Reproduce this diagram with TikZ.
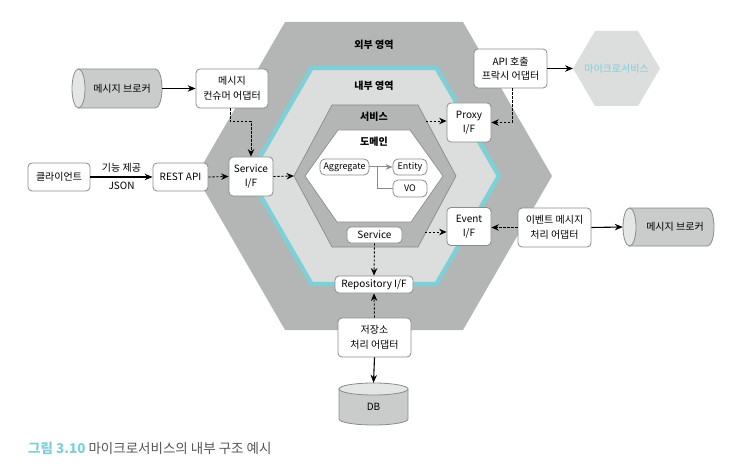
\documentclass[tikz,border=0pt]{standalone}
\usepackage{fontspec}
\setmainfont{Noto Sans CJK KR}
\usetikzlibrary{arrows.meta}
\definecolor{hexdark}{HTML}{B4B5B5}
\definecolor{hexlight}{HTML}{DCDDDD}
\definecolor{tealc}{HTML}{7ECFD6}
\definecolor{edgec}{HTML}{8A8B8B}
\definecolor{cylbody}{HTML}{CACBCB}
\definecolor{cylend}{HTML}{E4E5E5}
\definecolor{capgray}{HTML}{555555}
\tikzset{
  box/.style={draw=edgec, line width=0.8pt, fill=white, rounded corners=4pt, align=center,
    inner sep=0pt, font=\fontsize{10}{14.5}\selectfont},
  smallbox/.style={box, rounded corners=5pt, font=\fontsize{9}{10}\selectfont},
  region/.style={font=\bfseries\fontsize{10}{11}\selectfont},
  solidarrow/.style={line width=1.1pt, -{Stealth[length=8pt,width=6.5pt]}},
  dasharrow/.style={line width=0.9pt, dash pattern=on 2.2pt off 1.8pt, -{Stealth[length=7.5pt,width=6.5pt]}},
  grayarrow/.style={draw=edgec, line width=1pt, -{Stealth[length=7pt,width=5.5pt]}},
  cyl/.style={draw=edgec, line width=0.8pt, fill=cylbody},
  cylcap/.style={draw=edgec, line width=0.8pt, fill=cylend},
  lbl/.style={font=\fontsize{10}{12}\selectfont},
}
\begin{document}
\begin{tikzpicture}[x=1pt,y=-1pt]
\useasboundingbox (0,0) rectangle (734,468);

% outer region
\fill[hexdark] (285,22) -- (463,22) -- (552,176) -- (463,330) -- (285,330) -- (196,176) -- cycle;
% inner region
\draw[tealc, line width=4.5pt, fill=hexlight, line join=miter]
  (311.5,68) -- (436.5,68) -- (499,176) -- (436.5,284) -- (311.5,284) -- (249,176) -- cycle;
% service hexagon
\draw[edgec, line width=0.7pt, fill=hexdark]
  (332,105) -- (418,105) -- (456,176) -- (418,247) -- (332,247) -- (294,176) -- cycle;
% domain hexagon
\draw[edgec, line width=0.7pt, fill=white]
  (338,130) -- (410,130) -- (443,176) -- (411,222) -- (337,222) -- (305,176) -- cycle;

\coordinate (svcL) at (294,176);
\coordinate (svcUR) at (426,121);
\coordinate (svcLR) at (425,232);

\node[region] (outerlbl) at (374,45) {외부 영역};
\node[region] (innerlbl) at (374,86) {내부 영역};
\node[region] (svclbl) at (374,117) {서비스};
\node[region] (domlbl) at (374,142) {도메인};

% domain items
\node[smallbox, minimum width=49pt, minimum height=16pt] (agg) at (344.5,167) {Aggregate};
\node[smallbox, minimum width=34pt, minimum height=16pt] (ent) at (410,167) {Entity};
\node[smallbox, minimum width=34pt, minimum height=17pt] (vo) at (410,188.5) {VO};
\draw[grayarrow] (agg.east) -- (ent.west);
\coordinate (branch) at (377,167);
\draw[draw=edgec, line width=1pt] (branch) |- (vo.west);

\node[box, minimum width=55pt, minimum height=16pt] (svc) at (374.5,235) {Service};
\node[box, minimum width=78pt, minimum height=17pt] (repo) at (374,284.5) {Repository I/F};
\node[box, minimum width=73pt, minimum height=39pt] (stor) at (374.5,337.5) {저장소\\처리 어댑터};

% DB cylinder
\draw[cyl] (339,389) -- (339,419) arc[start angle=180, end angle=360, x radius=34.5pt, y radius=6pt] -- (408,389) -- cycle;
\draw[cylcap] (373.5,389) ellipse[x radius=34.5pt, y radius=6pt];
\node[minimum width=69pt, minimum height=42pt, inner sep=0pt] (db) at (373.5,404) {};
\node[lbl] (dblbl) at (373.5,407) {DB};

% left side
\draw[cyl] (78.5,69) -- (155.5,69) arc[start angle=90, end angle=-90, x radius=6.5pt, y radius=19.5pt] -- (78.5,108) -- cycle;
\draw[cylcap] (78.5,88.5) ellipse[x radius=6.5pt, y radius=19.5pt];
\node[minimum width=90pt, minimum height=39pt, inner sep=0pt] (broker1) at (117,88.5) {};
\node[lbl] (broker1lbl) at (122,88.5) {메시지 브로커};

\node[box, minimum width=72pt, minimum height=39pt] (cons) at (232,88.5) {메시지\\컨슈머 어댑터};
\node[box, minimum width=62pt, minimum height=28pt] (client) at (59,177) {클라이언트};
\node[box, minimum width=55pt, minimum height=28pt] (rest) at (180.5,177) {REST API};
\node[box, minimum width=44pt, minimum height=39pt] (svcif) at (251,176.5) {Service\\I/F};

% right side
\node[box, minimum width=73pt, minimum height=39pt] (apx) at (510.5,68.5) {API 호출\\프락시 어댑터};
\fill[hexlight] (573,68.5) -- (595,31) -- (638,31) -- (660,68.5) -- (638,106) -- (595,106) -- cycle;
\coordinate (msL) at (573,68.5);
\node[font=\fontsize{10}{12}\selectfont, text=tealc] (ms) at (616.5,68.5) {마이크로서비스};
\node[box, minimum width=44pt, minimum height=39pt] (pxif) at (469,122.5) {Proxy\\I/F};
\node[box, minimum width=44pt, minimum height=38pt] (evif) at (469,226.5) {Event\\I/F};
\node[box, minimum width=73pt, minimum height=39pt] (evad) at (554.5,227.5) {이벤트 메시지\\처리 어댑터};

\draw[cyl] (629.5,208) -- (707.5,208) arc[start angle=90, end angle=-90, x radius=6.5pt, y radius=19pt] -- (629.5,246) -- cycle;
\draw[cylcap] (629.5,227) ellipse[x radius=6.5pt, y radius=19pt];
\node[minimum width=91pt, minimum height=38pt, inner sep=0pt] (broker2) at (668.5,227) {};
\node[lbl] (broker2lbl) at (675,227) {메시지 브로커};

% connectors
\draw[solidarrow] (broker1.east) -- (cons.west);
\draw[solidarrow] (client.east) -- (rest.west)
  node[midway, above=1pt, lbl] {기능 제공}
  node[midway, below=1pt, lbl] {JSON};
\draw[dasharrow] (rest.east) -- (svcif.west);
\draw[dasharrow] ([xshift=-2pt]cons.south) -- ++(0,13) -| (svcif.north);
\draw[dasharrow] (svcif.east) -- (svcL);
\draw[dasharrow] (svc.south) -- (repo.north);
\draw[dasharrow] (stor.north) -- (repo.south);
\draw[solidarrow] (stor.south) -- (db.north);
\draw[dasharrow] (svcUR) -- (svcUR -| pxif.west);
\draw[dasharrow] ([xshift=1.5pt]apx.south) |- (pxif.east);
\draw[solidarrow] (apx.east) -- (msL);
\draw[dasharrow] (svcLR) -- (svcLR -| evif.west);
\draw[dasharrow] (evad.west) -- (evad.west -| evif.east);
\draw[solidarrow] (evad.east) -- (broker2.west);

% caption
\node[anchor=west, font=\fontsize{13.5}{15}\selectfont, inner sep=0pt] (caption) at (28,448)
  {\textcolor{tealc}{\bfseries 그림 3.10} \textcolor{capgray}{마이크로서비스의 내부 구조 예시}};
\end{tikzpicture}
\end{document}
